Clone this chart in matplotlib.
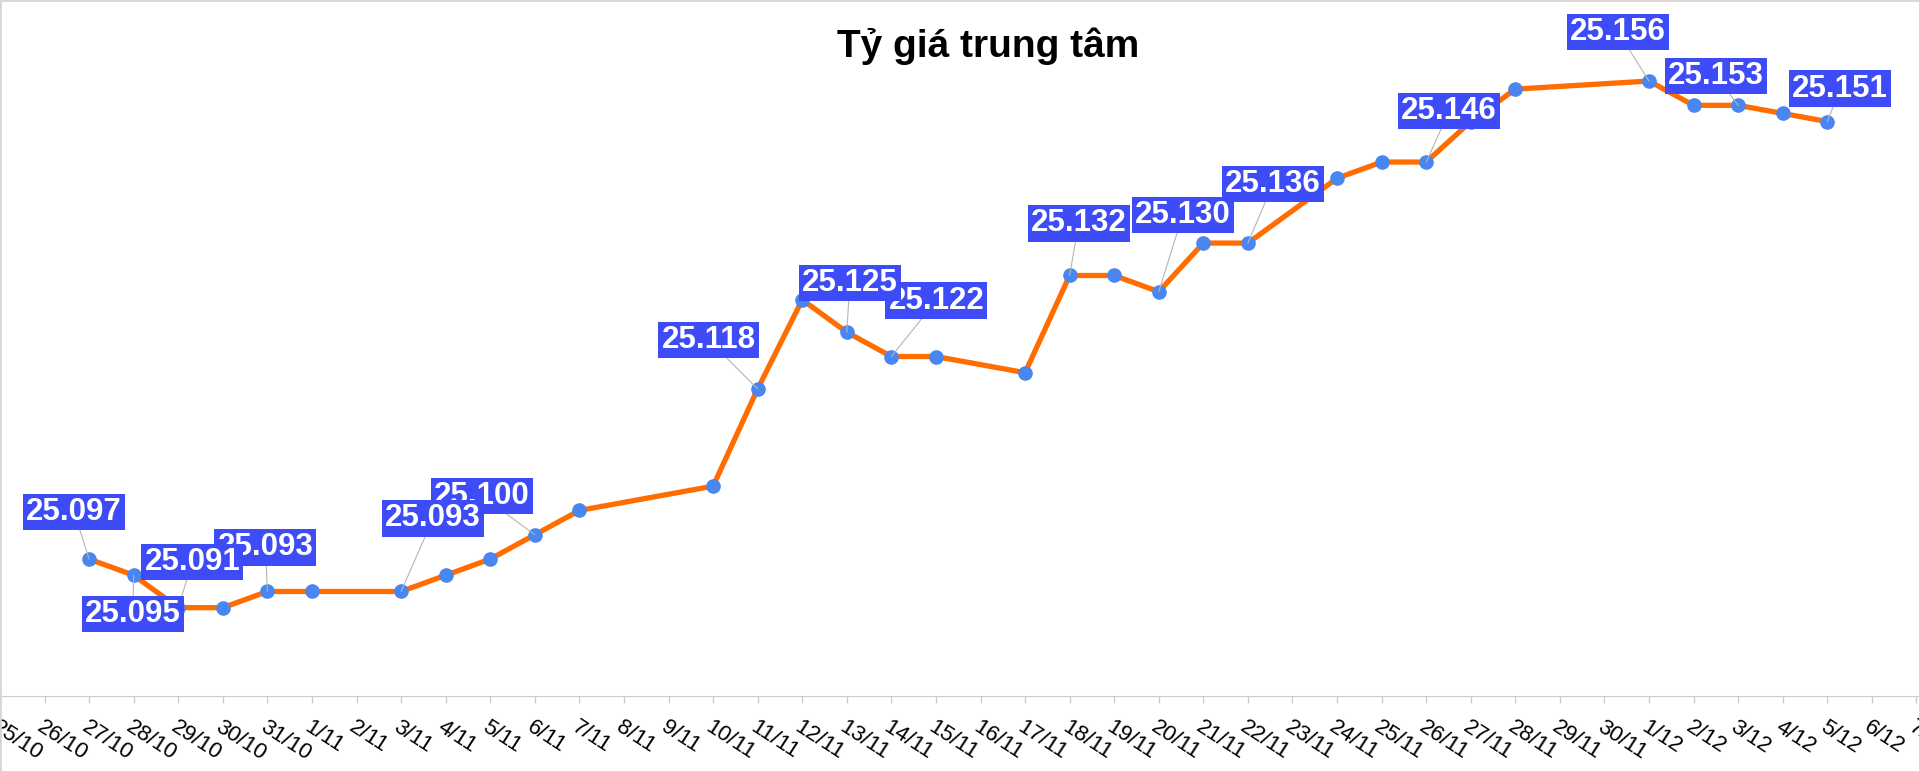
import matplotlib.pyplot as plt
import pandas as pd
from matplotlib.patches import Rectangle

START = pd.Timestamp(2025, 10, 25)
tick_days = pd.date_range(START, "2025-12-07")
tick_labels = [f"{d.day}/{d.month}" for d in tick_days]

dates = ["27/10", "28/10", "29/10", "30/10", "31/10", "1/11", "3/11", "4/11",
         "5/11", "6/11", "7/11", "10/11", "11/11", "12/11", "13/11", "14/11",
         "15/11", "17/11", "18/11", "19/11", "20/11", "21/11", "22/11", "24/11",
         "25/11", "26/11", "27/11", "28/11", "1/12", "2/12", "3/12", "4/12", "5/12"]
values = [25.097, 25.095, 25.091, 25.091, 25.093, 25.093, 25.093, 25.095,
          25.097, 25.100, 25.103, 25.106, 25.118, 25.129, 25.125, 25.122,
          25.122, 25.120, 25.132, 25.132, 25.130, 25.136, 25.136, 25.144,
          25.146, 25.146, 25.151, 25.155, 25.156, 25.153, 25.153, 25.152, 25.151]

labelled = ["27/10", "28/10", "29/10", "31/10", "3/11", "6/11", "11/11", "13/11",
            "14/11", "18/11", "20/11", "22/11", "26/11", "1/12", "3/12", "5/12"]
# where each label box sits relative to its point, in pixels
label_offsets = [(-15, 47), (-1, -39), (14, 46), (-2, 44), (32, 73), (-53, 39),
                 (-49, 49), (3, 49), (45, 56), (9, 52), (24, 77), (25, 59),
                 (23, 51), (-31, 49), (-22, 29), (13, 33)]


def day_index(s):
    d, m = s.split("/")
    return (pd.Timestamp(2025, int(m), int(d)) - START).days


x = [day_index(s) for s in dates]

plt.rcParams["font.family"] = ["Liberation Sans", "DejaVu Sans"]
fig = plt.figure(figsize=(19.2, 7.72), dpi=100)
ax = fig.add_axes([0, 76 / 772, 1, 696 / 772])

ax.plot(x, values, color="#ff6d00", lw=3.8, marker="o", ms=9.5,
        mfc="#4a86f0", mec="#4a86f0", zorder=3)

n = len(labelled)
for k, (d, (dx, dy)) in enumerate(zip(labelled, label_offsets)):
    i = dates.index(d)
    ax.annotate(f"{values[i]:.3f}", (x[i], values[i]), xytext=(dx, dy),
                textcoords="offset pixels", ha="center", va="center",
                color="white", fontsize=22.5, weight="bold",
                bbox=dict(boxstyle="square,pad=0.1", fc="#3d4cf6", ec="none"),
                arrowprops=dict(arrowstyle="-", color="#b5b5b5", lw=0.8,
                                shrinkA=0, shrinkB=0),
                zorder=10 + (n - k) * 0.1)

ax.set_xlim(0, 43.08)
ax.set_ylim(25.0801, 25.166)
ax.set_xticks(range(len(tick_labels)))
ax.set_xticklabels(tick_labels, rotation=-33, ha="left", va="top",
                   rotation_mode="anchor", fontsize=16)
ax.tick_params(axis="x", length=5, width=1, color="#cccccc", pad=10)
ax.set_yticks([])
for side in ["left", "right", "top"]:
    ax.spines[side].set_visible(False)
ax.spines["bottom"].set_color("#cccccc")

fig.text(988 / 1920, 1 - 57 / 772, "Tỷ giá trung tâm", ha="center",
         va="baseline", fontsize=28, weight="bold")
fig.add_artist(Rectangle((0, 0), 1, 1, transform=fig.transFigure, fill=False,
                         ec="#d6d6d6", lw=2))

fig.savefig("out.png", dpi=100)
